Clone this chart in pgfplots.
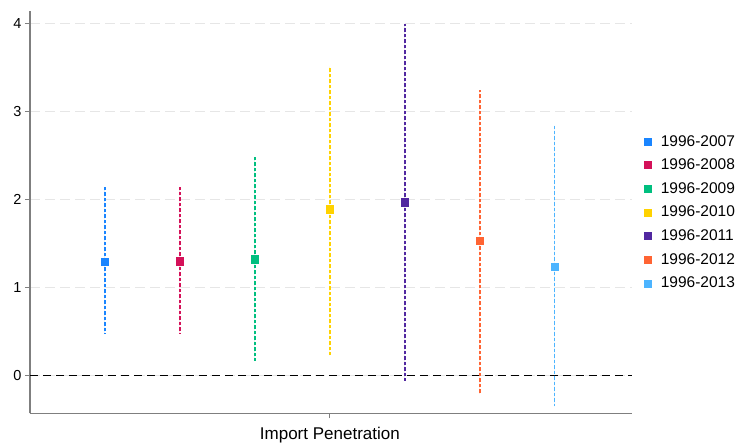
\documentclass[border=0pt]{standalone}
\usepackage{pgfplots}
\pgfplotsset{compat=1.18}
\usepackage{fontspec}
\setmainfont{Liberation Sans}
\definecolor{c1}{HTML}{1A85FF}
\definecolor{c2}{HTML}{D41159}
\definecolor{c3}{HTML}{00BF7F}
\definecolor{c4}{HTML}{FFD200}
\definecolor{c5}{HTML}{5128A0}
\definecolor{c6}{HTML}{FF6433}
\definecolor{c7}{HTML}{4CB4FF}
\definecolor{axgray}{HTML}{7F7F7F}
\definecolor{gridgray}{HTML}{E6E6E6}
\pgfplotsset{
  ci/.style={only marks, mark=square*, mark size=3.7pt, color=#1, fill=#1,
    error bars/.cd, y dir=both, y explicit, error mark=none,
    error bar style={color=#1, line width=1.4pt, dash pattern=on 3.5pt off 2pt}},
}
\begin{document}
\begin{tikzpicture}[x=1pt,y=1pt]
\path[use as bounding box] (0,0) rectangle (739,445);
\begin{axis}[
  at={(40,36)}, anchor=south west,
  scale only axis, width=602pt, height=402pt,
  xmin=-4, xmax=4.03, ymin=-0.43, ymax=4.14,
  axis x line*=bottom, axis y line*=left,
  axis line style={axgray, line width=1.2pt, -},
  xtick={0}, xticklabels={Import Penetration},
  ytick={0,1,2,3,4},
  tick style={axgray, line width=1pt},
  tick align=outside, major tick length=5pt,
  ymajorgrids, major grid style={gridgray, line width=1pt, dash pattern=on 10pt off 5pt},
  yticklabel style={font=\fontsize{14.5}{16}\selectfont},
  xticklabel style={font=\fontsize{17}{19}\selectfont, yshift=-5pt},
  /pgf/number format/assume math mode=true,
  legend style={at={(1.019,0.5)}, anchor=west, draw=none, fill=none,
    font=\fontsize{15.5}{18}\selectfont, row sep=7.3pt, inner sep=0pt},
  legend cell align=left,
  legend image code/.code={\fill[#1] (0pt,-3.5pt) rectangle (7pt,3.5pt); \path[draw=none,fill=none] (0pt,0pt) -- (15pt,0pt);},
  clip=false,
]
\addplot[black, line width=1.5pt, dash pattern=on 8pt off 5pt, forget plot] coordinates {(-4,0) (4.03,0)};
\addplot[ci=c1] coordinates {(-3,1.295) += (0,0.845) -= (0,0.825)};
\addlegendentry{1996-2007}
\addplot[ci=c2] coordinates {(-2,1.30) += (0,0.84) -= (0,0.82)};
\addlegendentry{1996-2008}
\addplot[ci=c3] coordinates {(-1,1.32) += (0,1.16) -= (0,1.15)};
\addlegendentry{1996-2009}
\addplot[ci=c4] coordinates {(0,1.89) += (0,1.62) -= (0,1.66)};
\addlegendentry{1996-2010}
\addplot[ci=c5] coordinates {(1,1.97) += (0,2.03) -= (0,2.03)};
\addlegendentry{1996-2011}
\addplot[ci=c6] coordinates {(2,1.53) += (0,1.71) -= (0,1.74)};
\addlegendentry{1996-2012}
\addplot[ci=c7] coordinates {(3,1.24) += (0,1.60) -= (0,1.59)};
\addlegendentry{1996-2013}
\end{axis}
\end{tikzpicture}
\end{document}
